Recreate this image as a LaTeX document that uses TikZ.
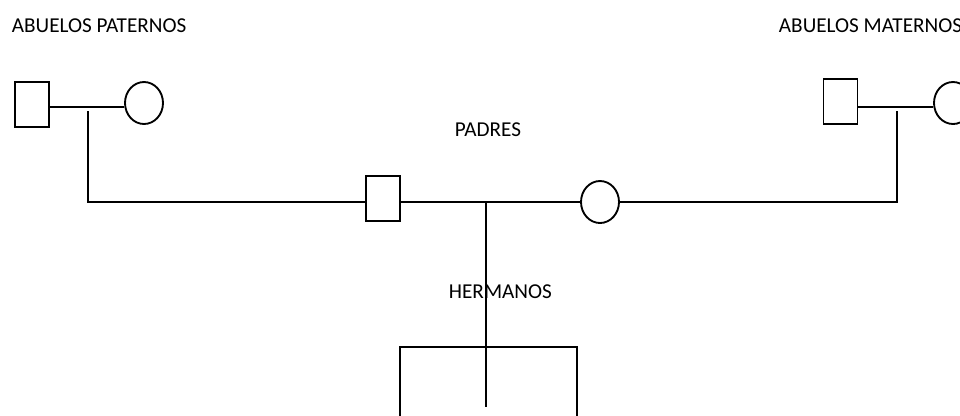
\documentclass[tikz,border=0pt]{standalone}
\usepackage{fontspec}
\setmainfont{Carlito}
\usetikzlibrary{shapes.geometric}
\begin{document}
\begin{tikzpicture}[x=0.75pt,y=-0.75pt,
  line width=1.4pt,
  male/.style={draw,rectangle,minimum width=25.5pt,minimum height=33.75pt,inner sep=0pt},
  female/.style={draw,ellipse,minimum width=28.5pt,minimum height=31.5pt,inner sep=0pt},
  lbl/.style={anchor=base west,inner sep=0pt,font=\fontsize{15.9pt}{18pt}\selectfont}]
\useasboundingbox (0,0) rectangle (960,415);
% labels
\node[lbl] (tp) at (11,32) {ABUELOS PATERNOS};
\node[lbl] (tm) at (778,32) {ABUELOS MATERNOS};
\node[lbl] (tpa) at (454,136) {PADRES};
\node[lbl] (the) at (448,298) {HERMANOS};
% paternal grandparents
\node[male] (gpf) at (32,104.5) {};
\node[female] (gpm) at (144,103) {};
\coordinate (lj) at (88,107);
\draw (gpf.east |- lj) -- (gpm.west |- lj);
% maternal grandparents
\node[male] (gmf) at (840.5,101.5) {};
\node[female] (gmm) at (953,103) {};
\coordinate (rj) at (897,107);
\draw (gmf.east |- rj) -- (gmm.west |- rj);
% parents
\node[male] (fa) at (383,198.5) {};
\node[female] (mo) at (600,202) {};
\coordinate (pj) at (486,202);
\draw (fa.east |- pj) -- (mo.west |- pj);
% links grandparents to parents
\coordinate (la) at (88,111);
\coordinate (lb) at (88,202);
\draw (la) -- (lb) -- (fa.west |- lb);
\coordinate (ra) at (897,111);
\coordinate (rb) at (897,202);
\draw (ra) -- (rb) -- (mo.east |- rb);
% siblings
\coordinate (sm) at (486,407);
\draw (pj) -- (sm);
\coordinate (s1t) at (400,347);
\coordinate (s1b) at (400,418);
\coordinate (s3t) at (577,347);
\coordinate (s3b) at (577,418);
\draw (s1b) -- (s1t) -- (s3t) -- (s3b);
\end{tikzpicture}
\end{document}
